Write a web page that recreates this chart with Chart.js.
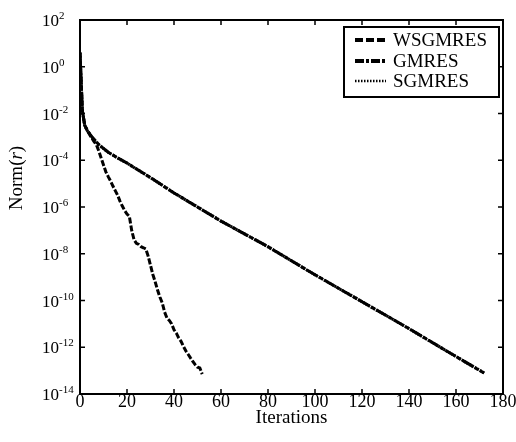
<!DOCTYPE html>
<html>
<head>
<meta charset="utf-8">
<script src="https://cdn.jsdelivr.net/npm/chart.js@4.4.1/dist/chart.umd.min.js"></script>
<style>
  html, body { margin: 0; padding: 0; background: #fff; }
  #wrap { width: 516px; height: 442px; }
</style>
</head>
<body>
<div id="wrap"><canvas id="normChart" width="516" height="442"></canvas></div>
<script>
/* ================= DATA ================= */

// WSGMRES - the fast one, stops near 52 iterations
const wsgmresIter = [0, 1, 2, 3, 4, 5, 6, 7, 8, 9, 10, 11, 12, 13, 14, 15, 16, 17, 18, 19, 20,
  21, 22, 23, 24, 25, 26, 27, 28, 29, 30, 31, 32, 33, 34, 35, 36, 37, 38, 39, 40,
  41, 42, 43, 44, 45, 46, 47, 48, 49, 50, 51, 52];
const wsgmresNorm = [4e0, 1.3e-2, 3.2e-3, 2.0e-3, 1.3e-3, 8.9e-4, 6.3e-4, 4.5e-4, 2.5e-4, 1.26e-4, 6.3e-5,
  3.2e-5, 2.0e-5, 1.3e-5, 7.9e-6, 5.0e-6, 3.2e-6, 1.8e-6, 1.1e-6, 7.1e-7, 5.0e-7,
  4.0e-7, 1.0e-7, 4.0e-8, 2.8e-8, 2.5e-8, 2.0e-8, 1.8e-8, 1.6e-8, 7.9e-9, 3.2e-9,
  1.3e-9, 6.3e-10, 2.8e-10, 1.4e-10, 7.9e-11, 3.2e-11, 1.8e-11, 1.4e-11, 1.0e-11, 5.6e-12,
  4.0e-12, 2.5e-12, 1.8e-12, 1.1e-12, 7.1e-13, 5.0e-13, 3.5e-13, 2.5e-13, 1.8e-13, 1.4e-13,
  1.3e-13, 7.1e-14];

// GMRES - slow straight decay up to ~172 iterations
const gmresIter = [0, 1, 2, 3, 5, 8, 12, 16, 20, 30, 40, 50, 60, 80, 100, 120, 140, 160, 172];
const gmresNorm = [4e0, 1.3e-2, 3.2e-3, 2.0e-3, 1.0e-3, 4.7e-4, 2.2e-4, 1.26e-4, 7.6e-5, 1.8e-5,
  4.0e-6, 1.0e-6, 2.5e-7, 2.0e-8, 1.26e-9, 8.9e-11, 6.3e-12, 4.0e-13, 7.9e-14];

// SGMRES - lies right on top of GMRES
const sgmresIter = [0, 1, 2, 3, 5, 8, 12, 16, 20, 30, 40, 50, 60, 80, 100, 120, 140, 160, 172];
const sgmresNorm = [4e0, 1.3e-2, 3.1e-3, 1.9e-3, 1.0e-3, 4.6e-4, 2.2e-4, 1.25e-4, 7.5e-5, 1.8e-5,
  4.0e-6, 1.0e-6, 2.5e-7, 2.0e-8, 1.25e-9, 8.9e-11, 6.2e-12, 4.0e-13, 7.9e-14];

const xTicks = [0, 20, 40, 60, 80, 100, 120, 140, 160, 180];
const yTicks = [1e2, 1e0, 1e-2, 1e-4, 1e-6, 1e-8, 1e-10, 1e-12, 1e-14];

/* ================= HELPERS ================= */

const SERIF = "'Liberation Serif', 'DejaVu Serif', serif";

function toPoints(xs, ys) {
  return xs.map((x, i) => ({ x: x, y: ys[i] }));
}

/* ================= FRAME, TICKS, LEGEND, Y TITLE ================= */

const framePlugin = {
  id: 'frame',
  afterDraw(chart) {
    const { ctx, chartArea: a, scales } = chart;
    ctx.save();
    ctx.strokeStyle = '#000';
    ctx.lineWidth = 2;
    ctx.setLineDash([]);
    ctx.strokeRect(a.left, a.top, a.right - a.left, a.bottom - a.top);

    // inward tick marks on all four sides
    ctx.lineWidth = 1.5;
    ctx.beginPath();
    xTicks.forEach(v => {
      const px = scales.x.getPixelForValue(v);
      ctx.moveTo(px, a.bottom); ctx.lineTo(px, a.bottom - 5);
      ctx.moveTo(px, a.top); ctx.lineTo(px, a.top + 5);
    });
    yTicks.forEach(v => {
      const py = scales.y.getPixelForValue(v);
      ctx.moveTo(a.left, py); ctx.lineTo(a.left + 5, py);
      ctx.moveTo(a.right, py); ctx.lineTo(a.right - 5, py);
    });
    ctx.stroke();

    // y tick labels: 10 with raised exponent
    ctx.fillStyle = '#000';
    ctx.textAlign = 'left';
    ctx.textBaseline = 'alphabetic';
    yTicks.forEach(v => {
      const py = scales.y.getPixelForValue(v);
      const exp = String(Math.round(Math.log10(v)));
      ctx.font = '17px ' + SERIF;
      ctx.fillText('10', 42, py + 6);
      const w = ctx.measureText('10').width;
      ctx.font = '11px ' + SERIF;
      ctx.fillText(exp, 42 + w, py - 1);
    });

    // legend box
    const bx = 344, by = 27, bw = 155, bh = 70;
    ctx.fillStyle = '#fff';
    ctx.fillRect(bx, by, bw, bh);
    ctx.lineWidth = 2;
    ctx.strokeRect(bx, by, bw, bh);
    const rows = [40, 61, 81];
    chart.data.datasets.forEach((ds, i) => {
      const y = rows[i];
      ctx.beginPath();
      ctx.setLineDash(ds.legendDash);
      ctx.lineWidth = ds.legendWidth;
      ctx.strokeStyle = '#000';
      ctx.moveTo(355, y); ctx.lineTo(386, y);
      ctx.stroke();
      ctx.setLineDash([]);
      ctx.fillStyle = '#000';
      ctx.font = '19px ' + SERIF;
      ctx.textBaseline = 'middle';
      ctx.textAlign = 'left';
      ctx.fillText(ds.label, 393, y + 1);
    });

    // y title: Norm(r) with italic r
    ctx.translate(17, 178);
    ctx.rotate(-Math.PI / 2);
    const normal = '19px ' + SERIF, italic = 'italic 19px ' + SERIF;
    const parts = [['Norm(', normal], ['r', italic], [')', normal]];
    let total = 0;
    parts.forEach(p => { ctx.font = p[1]; total += ctx.measureText(p[0]).width; });
    let x = -total / 2;
    ctx.textBaseline = 'middle';
    parts.forEach(p => {
      ctx.font = p[1];
      ctx.fillText(p[0], x, 0);
      x += ctx.measureText(p[0]).width;
    });
    ctx.restore();
  }
};

/* ================= CHART ================= */

new Chart(document.getElementById('normChart'), {
  type: 'line',
  data: {
    datasets: [{
      label: 'WSGMRES',
      data: toPoints(wsgmresIter, wsgmresNorm),
      borderColor: '#000',
      borderWidth: 3,
      borderDash: [6, 2],
      legendDash: [8, 3],
      legendWidth: 4,
      pointRadius: 0,
      tension: 0
    }, {
      label: 'GMRES',
      data: toPoints(gmresIter, gmresNorm),
      borderColor: '#000',
      borderWidth: 3,
      borderDash: [12, 2, 4, 2],
      legendDash: [9, 2, 3, 2],
      legendWidth: 4,
      pointRadius: 0,
      tension: 0
    }, {
      label: 'SGMRES',
      data: toPoints(sgmresIter, sgmresNorm),
      borderColor: '#000',
      borderWidth: 3,
      borderDash: [2, 1],
      legendDash: [1.5, 1.5],
      legendWidth: 2.5,
      pointRadius: 0,
      tension: 0
    }]
  },
  options: {
    responsive: false,
    animation: false,
    layout: { padding: { top: 20, right: 13, left: 0, bottom: 0 } },
    plugins: {
      legend: { display: false },
      tooltip: { enabled: false }
    },
    scales: {
      x: {
        type: 'linear',
        min: 0,
        max: 180,
        afterBuildTicks: s => { s.ticks = xTicks.map(v => ({ value: v })); },
        afterFit: s => { s.height = 48; },
        grid: { display: false, drawTicks: false },
        border: { display: false },
        ticks: {
          color: '#000',
          padding: -3,
          maxRotation: 0,
          autoSkip: false,
          font: { family: SERIF, size: 18 }
        },
        title: {
          display: true,
          text: 'Iterations',
          color: '#000',
          font: { family: SERIF, size: 19 },
          padding: { top: 0, bottom: 13 }
        }
      },
      y: {
        type: 'logarithmic',
        min: 1e-14,
        max: 1e2,
        afterBuildTicks: s => { s.ticks = yTicks.map(v => ({ value: v })); },
        afterFit: s => { s.width = 80; },
        grid: { display: false, drawTicks: false },
        border: { display: false },
        ticks: { display: false }
      }
    }
  },
  plugins: [framePlugin]
});
</script>
</body>
</html>
